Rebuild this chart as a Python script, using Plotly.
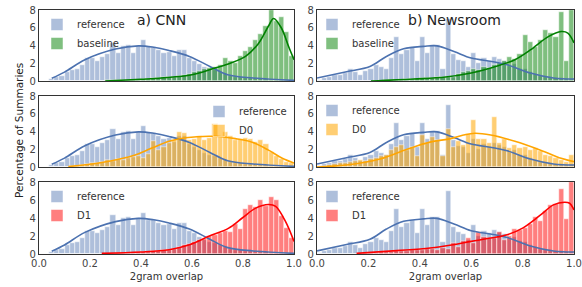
import plotly.graph_objects as go

# bin centres (width 0.02)
bins = [round(0.01 + 0.02 * i, 2) for i in range(50)]

ref_cnn = [0, 0, 0.2, 0.4, 0.6, 1.0, 1.2, 1.3, 1.8, 2.6,
           2.6, 2.3, 2.7, 3.0, 4.3, 3.2, 4.0, 4.1, 3.2, 4.0,
           4.6, 3.8, 3.8, 3.5, 3.2, 3.3, 2.8, 3.5, 3.5, 2.6,
           2.3, 1.9, 1.6, 1.3, 1.2, 1.0, 0.8, 0.6, 0.5, 0.4,
           0.35, 0.3, 0.25, 0.2, 0.2, 0.15, 0.1, 0.1, 0.05, 0.05]
base_cnn = [0, 0, 0, 0, 0, 0, 0, 0, 0, 0,
            0, 0, 0.05, 0.1, 0.1, 0.1, 0.1, 0.1, 0.1, 0.1,
            0.2, 0.2, 0.3, 0.3, 0.4, 0.4, 0.5, 0.6, 0.7, 0.8,
            1.0, 1.1, 1.3, 1.5, 1.6, 1.8, 2.6, 2.3, 2.0, 2.8,
            3.4, 3.8, 4.6, 5.3, 6.2, 8.0, 6.8, 7.2, 5.5, 2.8]
d0_cnn = [0, 0, 0, 0, 0, 0.05, 0.1, 0.15, 0.2, 0.3,
          0.4, 0.5, 0.6, 0.8, 0.7, 0.9, 0.8, 1.0, 1.1, 1.2,
          1.0, 1.5, 2.9, 1.9, 2.3, 2.7, 3.0, 3.9, 3.8, 3.0,
          3.2, 3.5, 3.0, 3.3, 4.9, 3.4, 3.9, 3.5, 3.0, 3.1,
          3.3, 3.2, 2.8, 3.0, 2.6, 1.7, 1.2, 0.9, 0.6, 0.4]
d1_cnn = [0, 0, 0, 0, 0, 0, 0, 0, 0, 0,
          0, 0, 0.05, 0.05, 0.05, 0.1, 0.1, 0.1, 0.15, 0.2,
          0.2, 0.25, 0.3, 0.3, 0.4, 0.5, 0.6, 0.8, 1.0, 1.1,
          1.3, 1.6, 1.7, 2.0, 2.1, 2.3, 2.6, 2.5, 3.3, 2.8,
          5.0, 5.4, 5.2, 6.0, 5.3, 6.3, 6.0, 4.2, 2.9, 1.8]

ref_nr = [0.1, 0.3, 0.5, 0.7, 0.7, 0.9, 1.3, 1.0, 0.7, 1.1,
          1.3, 1.8, 1.6, 1.3, 2.6, 5.0, 3.0, 3.5, 3.8, 2.3,
          5.0, 3.2, 4.1, 4.1, 1.3, 7.0, 3.0, 2.4, 2.2, 1.6,
          3.2, 2.0, 2.6, 2.3, 2.7, 2.5, 2.2, 1.7, 1.9, 1.4,
          1.3, 1.0, 0.8, 0.6, 0.5, 0.4, 0.3, 0.3, 0.2, 0.2]
base_nr = [0, 0, 0, 0, 0, 0, 0, 0, 0, 0,
           0, 0.05, 0.05, 0.1, 0.1, 0.1, 0.15, 0.2, 0.2, 0.25,
           0.3, 0.3, 0.35, 0.4, 0.4, 0.5, 0.5, 0.8, 1.0, 1.1,
           1.3, 1.2, 1.6, 1.5, 1.8, 2.0, 2.2, 2.7, 2.5, 3.0,
           5.2, 4.4, 3.8, 4.6, 5.7, 5.4, 5.0, 7.8, 2.2, 8.0]
d0_nr = [0.05, 0.1, 0.2, 0.3, 0.4, 0.5, 0.6, 0.7, 0.8, 0.7,
         0.9, 1.0, 1.2, 1.4, 1.9, 2.3, 2.5, 1.9, 2.3, 1.2,
         3.6, 2.7, 3.4, 3.0, 1.2, 4.3, 2.3, 2.9, 2.5, 3.7,
         5.3, 3.1, 3.1, 2.7, 5.6, 2.7, 3.1, 2.1, 2.5, 2.1,
         2.3, 1.9, 2.1, 1.8, 1.4, 1.2, 1.0, 0.8, 0.6, 1.4]
d1_nr = [0, 0, 0, 0, 0, 0, 0, 0.05, 0.05, 0.1,
         0.1, 0.15, 0.2, 0.2, 0.25, 0.3, 0.3, 0.35, 0.4, 0.5,
         0.5, 0.6, 0.6, 0.5, 0.7, 0.6, 1.2, 0.8, 1.4, 1.8,
         1.2, 2.4, 1.9, 1.8, 1.8, 2.4, 1.6, 2.0, 2.8, 2.7,
         2.9, 3.3, 4.1, 3.7, 4.8, 5.4, 5.6, 7.2, 3.9, 8.0]

# KDE curves (x, y)
kde_ref_cnn_x = [0.05, 0.1, 0.18, 0.3, 0.39, 0.45, 0.51, 0.59, 0.67, 0.74, 0.84, 1.0]
kde_ref_cnn_y = [0.3, 1.0, 2.4, 3.6, 3.96, 3.8, 3.44, 2.77, 1.64, 0.71, 0.34, 0.07]
kde_base_cnn_x = [0.26, 0.4, 0.48, 0.6, 0.69, 0.75, 0.81, 0.86, 0.9, 0.92, 0.95, 0.98, 1.0]
kde_base_cnn_y = [0.0, 0.2, 0.34, 0.7, 1.46, 2.0, 2.77, 4.2, 6.2, 7.05, 6.0, 3.8, 2.4]
kde_d0_cnn_x = [0.115, 0.246, 0.377, 0.44, 0.51, 0.574, 0.69, 0.77, 0.836, 0.9, 0.954, 1.0]
kde_d0_cnn_y = [0.05, 0.5, 1.35, 2.1, 2.9, 3.3, 3.46, 3.2, 2.8, 1.9, 0.98, 0.45]
kde_d1_cnn_x = [0.246, 0.4, 0.51, 0.59, 0.666, 0.744, 0.797, 0.85, 0.9, 0.928, 0.967, 1.0]
kde_d1_cnn_y = [0.07, 0.22, 0.48, 1.03, 1.96, 2.88, 4.0, 5.1, 5.5, 5.3, 3.6, 1.4]

kde_ref_nr_x = [0.0, 0.115, 0.206, 0.27, 0.337, 0.415, 0.467, 0.533, 0.6, 0.68, 0.74, 0.83, 0.92, 1.0]
kde_ref_nr_y = [0.34, 1.05, 1.64, 2.77, 3.63, 3.9, 3.96, 3.33, 2.58, 2.2, 1.83, 0.9, 0.34, 0.22]
kde_base_nr_x = [0.21, 0.376, 0.5, 0.6, 0.676, 0.77, 0.83, 0.9, 0.95, 0.976, 1.0]
kde_base_nr_y = [0.0, 0.22, 0.45, 0.9, 1.46, 2.4, 3.5, 5.0, 5.57, 5.4, 4.3]
kde_d0_nr_x = [0.0, 0.115, 0.245, 0.35, 0.44, 0.52, 0.57, 0.615, 0.676, 0.77, 0.87, 0.95, 1.0]
kde_d0_nr_y = [0.0, 0.22, 0.9, 2.0, 2.8, 3.2, 3.6, 3.8, 3.6, 2.9, 1.9, 0.98, 0.6]
kde_d1_nr_x = [0.154, 0.31, 0.44, 0.53, 0.6, 0.676, 0.74, 0.8, 0.87, 0.92, 0.963, 0.983, 1.0]
kde_d1_nr_y = [0.07, 0.37, 0.66, 1.03, 1.4, 1.77, 2.14, 2.88, 4.35, 5.46, 5.75, 5.64, 4.9]

y_ticks = [0, 2, 4, 6, 8]
x_ticks = [0.0, 0.2, 0.4, 0.6, 0.8, 1.0]

BLUE = "#4C72B0"
BLUE_BAR = "rgba(76,114,176,0.45)"

panels = [
    (1, 1, "baseline", base_cnn, "rgba(0,128,0,0.5)", "#008000", (kde_base_cnn_x, kde_base_cnn_y), ref_cnn, (kde_ref_cnn_x, kde_ref_cnn_y)),
    (1, 2, "baseline", base_nr, "rgba(0,128,0,0.5)", "#008000", (kde_base_nr_x, kde_base_nr_y), ref_nr, (kde_ref_nr_x, kde_ref_nr_y)),
    (2, 1, "D0", d0_cnn, "rgba(255,165,0,0.55)", "#FFA500", (kde_d0_cnn_x, kde_d0_cnn_y), ref_cnn, (kde_ref_cnn_x, kde_ref_cnn_y)),
    (2, 2, "D0", d0_nr, "rgba(255,165,0,0.55)", "#FFA500", (kde_d0_nr_x, kde_d0_nr_y), ref_nr, (kde_ref_nr_x, kde_ref_nr_y)),
    (3, 1, "D1", d1_cnn, "rgba(255,0,0,0.5)", "#FF0000", (kde_d1_cnn_x, kde_d1_cnn_y), ref_cnn, (kde_ref_cnn_x, kde_ref_cnn_y)),
    (3, 2, "D1", d1_nr, "rgba(255,0,0,0.5)", "#FF0000", (kde_d1_nr_x, kde_d1_nr_y), ref_nr, (kde_ref_nr_x, kde_ref_nr_y)),
]

W, H = 582, 287
col_px = {1: (39, 294), 2: (317, 574)}
row_px = {1: (10, 81), 2: (96, 167), 3: (182, 254)}


def px(p):
    return p / W


def py(p):
    return 1 - p / H


fig = go.Figure()
layout = {}
for k, (r, c, name, other, ocol, lcol, kde_o, ref, kde_r) in enumerate(panels):
    idx = k + 1
    xa = "x" if idx == 1 else f"x{idx}"
    ya = "y" if idx == 1 else f"y{idx}"
    lg = "legend" if idx == 1 else f"legend{idx}"
    fig.add_trace(go.Bar(x=bins, y=ref, width=0.02, marker=dict(color=BLUE_BAR, line=dict(color="white", width=0.5)),
                         name="reference", xaxis=xa, yaxis=ya, legend=lg))
    fig.add_trace(go.Bar(x=bins, y=other, width=0.02, marker=dict(color=ocol, line=dict(color="white", width=0.5)),
                         name=name, xaxis=xa, yaxis=ya, legend=lg))
    fig.add_trace(go.Scatter(x=kde_r[0], y=kde_r[1], mode="lines", line=dict(color=BLUE, width=1.6, shape="spline"),
                             showlegend=False, xaxis=xa, yaxis=ya, hoverinfo="skip"))
    fig.add_trace(go.Scatter(x=kde_o[0], y=kde_o[1], mode="lines", line=dict(color=lcol, width=1.6, shape="spline"),
                             showlegend=False, xaxis=xa, yaxis=ya, hoverinfo="skip"))
    x0, x1 = col_px[c]
    y0, y1 = row_px[r]
    xkey = "xaxis" if idx == 1 else f"xaxis{idx}"
    ykey = "yaxis" if idx == 1 else f"yaxis{idx}"
    layout[xkey] = dict(domain=[px(x0), px(x1)], range=[0, 1], anchor=ya, showgrid=False, zeroline=False,
                        automargin=False, ticklabeloverflow="allow",
                        showline=True, mirror=True, linecolor="#333333", linewidth=1.2,
                        tickvals=x_ticks, tickformat=".1f", showticklabels=(r == 3), ticks="",
                        tickfont=dict(size=10, color="#444444", family="DejaVu Sans"),
                        title=dict(text="2gram overlap" if r == 3 else "", font=dict(size=10, color="#333333"), standoff=4))
    layout[ykey] = dict(domain=[py(y1), py(y0)], range=[0, 8], anchor=xa, showgrid=False, zeroline=False,
                        automargin=False, ticklabeloverflow="allow",
                        showline=True, mirror=True, linecolor="#333333", linewidth=1.2,
                        tickvals=y_ticks, ticks="", tickfont=dict(size=10, color="#444444", family="DejaVu Sans"))
    if idx == 3:
        lx, lxa = px(x1 - 2), "right"
        ly = py(y0 + 1)
    else:
        lx, lxa = px(x0 - 2 if c == 1 else x0 - 5), "left"
        ly = py(y0)
    layout[lg] = dict(x=lx, y=ly, xanchor=lxa, yanchor="top", bgcolor="rgba(0,0,0,0)",
                      font=dict(size=10, color="#333333", family="DejaVu Sans"), traceorder="normal",
                      itemwidth=30, tracegroupgap=0)

fig.update_layout(**layout)
fig.update_layout(
    width=W, height=H, barmode="overlay", bargap=0,
    margin=dict(l=0, r=0, t=0, b=0, autoexpand=False),
    paper_bgcolor="white", plot_bgcolor="white",
    font=dict(family="DejaVu Sans", color="#333333"),
    annotations=[
        dict(text="a) CNN", x=px(161), y=py(20), xref="paper", yref="paper", showarrow=False,
             font=dict(size=14, color="#222222"), xanchor="center", yanchor="middle"),
        dict(text="b) Newsroom", x=px(454), y=py(20), xref="paper", yref="paper", showarrow=False,
             font=dict(size=14, color="#222222"), xanchor="center", yanchor="middle"),
        dict(text="Percentage of Summaries", x=px(19), y=py(131), xref="paper", yref="paper",
             showarrow=False, textangle=-90, font=dict(size=10.5, color="#222222"),
             xanchor="center", yanchor="middle"),
    ],
)

fig.write_html("out.html", config={"displayModeBar": False},
               post_script="document.body.style.margin='0';document.body.style.overflow='hidden';")
